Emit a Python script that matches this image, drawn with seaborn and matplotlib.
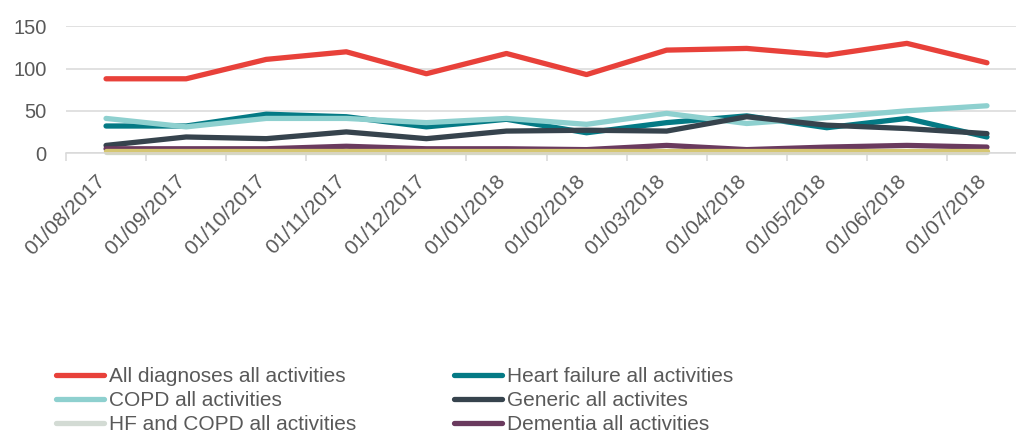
import matplotlib
matplotlib.use("Agg")
import matplotlib.pyplot as plt
from matplotlib.lines import Line2D
from matplotlib.ticker import FixedLocator
import numpy as np
import pandas as pd
import seaborn as sns

# Monthly activity counts by diagnosis group
months = ["01/08/2017", "01/09/2017", "01/10/2017", "01/11/2017", "01/12/2017",
          "01/01/2018", "01/02/2018", "01/03/2018", "01/04/2018", "01/05/2018",
          "01/06/2018", "01/07/2018"]

all_diagnoses = [88, 88, 111, 120, 94, 118, 93, 122, 124, 116, 130, 107]
heart_failure = [32, 32, 46, 43, 31, 40, 24, 36, 44, 30, 41, 19]
copd = [41, 31, 41, 41, 36, 41, 34, 47, 35, 42, 50, 56]
generic = [9, 19, 17, 25, 17, 26, 27, 26, 43, 33, 29, 23]
hf_and_copd = [1, 1, 1, 1, 1, 1, 1, 1, 1, 1, 1, 1]
dementia = [5, 5, 5, 8, 5, 5, 4, 9, 4, 7, 9, 7]
other = [2, 2, 2, 2, 2, 2, 2, 2, 2, 2, 2, 2]

series_names = ["All diagnoses all activities", "Heart failure all activities",
                "COPD all activities", "Generic all activites",
                "HF and COPD all activities", "Dementia all activities", None]
series_values = [all_diagnoses, heart_failure, copd, generic, hf_and_copd, dementia, other]
colors = ["#E8413A", "#047A85", "#8ED0CF", "#36434D", "#D3DBD4", "#6A3A5E", "#D5C672"]

y_ticks = [0, 50, 100, 150]

sns.set_theme(style="white")
plt.rcParams["font.family"] = ["Liberation Sans", "DejaVu Sans"]

text_gray = "#595959"
grid_gray = "#D9D9D9"

fig = plt.figure(figsize=(10.16, 4.36), dpi=100)
ax = fig.add_axes([66 / 1016, 1 - 153 / 436, 961 / 1016, 126.5 / 436])

x = np.arange(len(months))
for name, vals, col in zip(series_names, series_values, colors):
    df = pd.DataFrame({"month": x, "value": vals})
    line_ax = sns.lineplot(data=df, x="month", y="value", ax=ax, color=col,
                           linewidth=3.8, sort=False, legend=False)
    line_ax.lines[-1].set_solid_capstyle("round")
    line_ax.lines[-1].set_solid_joinstyle("round")
    line_ax.lines[-1].set_clip_on(False)

ax.set_xlim(-0.5, len(months) - 0.5)
ax.set_ylim(0, 150)
ax.set_xlabel("")
ax.set_ylabel("")

ax.set_yticks(y_ticks)
ax.set_yticklabels([str(v) for v in y_ticks])
ax.yaxis.grid(True, color=grid_gray, linewidth=1.1)
ax.set_axisbelow(True)

# Month labels: rotated, anchored at the right end of their baseline under each category
ax.set_xticks(x)
ax.set_xticklabels(months, rotation=45, ha="right", va="baseline", rotation_mode="anchor")
ax.xaxis.set_minor_locator(FixedLocator(np.arange(-0.5, len(months) + 0.5, 1.0)))
ax.tick_params(axis="x", which="major", length=0, pad=21, labelsize=15, labelcolor=text_gray)
ax.tick_params(axis="x", which="minor", length=6, width=1.1, color=grid_gray, bottom=True)
ax.tick_params(axis="y", length=0, pad=14, labelsize=14.5, labelcolor=text_gray)

for side in ["top", "right", "left"]:
    ax.spines[side].set_visible(False)
ax.spines["bottom"].set_color(grid_gray)
ax.spines["bottom"].set_linewidth(1.1)

# Two-column legend (filled column by column)
order = [0, 2, 4, 1, 3, 5]
handles = [Line2D([0], [0], color=colors[i], linewidth=3.8, solid_capstyle="round")
           for i in order]
labels = [series_names[i] for i in order]
fig.legend(handles, labels, loc="upper left", bbox_to_anchor=(56 / 1016, 1 - 367 / 436),
           ncol=2, frameon=False, fontsize=15, handlelength=2.3, handletextpad=0.25,
           labelspacing=0.24, columnspacing=4.7, borderpad=0, borderaxespad=0,
           labelcolor=text_gray)

fig.savefig("out.png", dpi=100)
